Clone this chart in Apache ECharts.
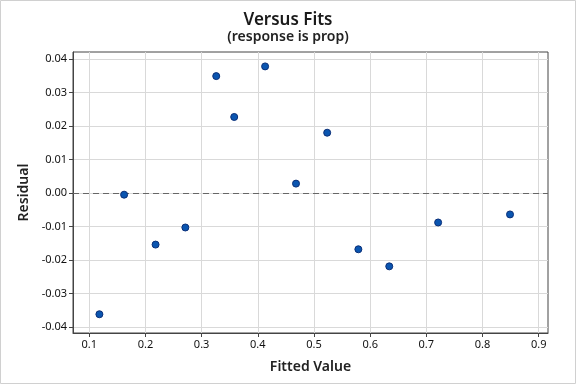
<!DOCTYPE html>
<html><head><meta charset="utf-8">
<script src="https://cdn.jsdelivr.net/npm/echarts@6/dist/echarts.min.js"></script>
<style>html,body{margin:0;padding:0;background:#fff}#c{width:576px;height:384px}</style>
</head><body><div id="c"></div>
<script>
const fittedValues = [0.118, 0.162, 0.218, 0.271, 0.326, 0.358, 0.413, 0.468, 0.5235, 0.579, 0.634, 0.721, 0.849];
const residuals = [-0.0362, -0.0005, -0.0154, -0.0103, 0.0349, 0.0227, 0.0378, 0.0028, 0.0180, -0.0168, -0.0219, -0.0088, -0.0064];
const xTicks = [0.1, 0.2, 0.3, 0.4, 0.5, 0.6, 0.7, 0.8, 0.9];
const yTicks = [-0.04, -0.03, -0.02, -0.01, 0, 0.01, 0.02, 0.03, 0.04];

const font = "'Noto Sans', 'Open Sans', sans-serif";
const chart = echarts.init(document.getElementById('c'), null, {renderer: 'canvas'});
chart.setOption({
  animation: false,
  backgroundColor: '#fff',
  graphic: [{type: 'rect', shape: {x: 0.5, y: 0.5, width: 575, height: 383}, style: {fill: 'none', stroke: '#d0d0d0', lineWidth: 1}, z: -1}],
  title: {
    text: 'Versus Fits', subtext: '(response is prop)', left: 'center', top: 7, itemGap: 1,
    textStyle: {fontFamily: font, fontSize: 17, fontWeight: 600, color: '#1a1a1a'},
    subtextStyle: {fontFamily: font, fontSize: 14, fontWeight: 600, color: '#222'}
  },
  grid: {left: 73, right: 28, top: 52, bottom: 51, show: true, borderColor: '#444', borderWidth: 1, backgroundColor: '#fff'},
  xAxis: {
    type: 'value', min: 0.071, max: 0.9166,
    name: 'Fitted Value', nameLocation: 'middle', nameGap: 27,
    nameTextStyle: {fontFamily: font, fontSize: 14, fontWeight: 600, color: '#222'},
    axisLine: {show: true, onZero: false, lineStyle: {color: '#444'}},
    axisTick: {show: true, length: 4, customValues: xTicks, lineStyle: {color: '#444'}},
    axisLabel: {customValues: xTicks, fontFamily: font, fontSize: 11, color: '#111', margin: 6, formatter: v => v.toFixed(1)},
    splitLine: {show: true, lineStyle: {color: '#d9d9d9', width: 1}}
  },
  yAxis: {
    type: 'value', min: -0.0418, max: 0.0421,
    name: 'Residual', nameLocation: 'middle', nameGap: 41, nameRotate: 90,
    nameTextStyle: {fontFamily: font, fontSize: 14, fontWeight: 600, color: '#222'},
    axisLine: {show: true, onZero: false, lineStyle: {color: '#444'}},
    axisTick: {show: true, length: 4, customValues: yTicks, lineStyle: {color: '#444'}},
    axisLabel: {customValues: yTicks, fontFamily: font, fontSize: 11, color: '#111', margin: 6, formatter: v => v.toFixed(2)},
    splitLine: {show: true, lineStyle: {color: '#d9d9d9', width: 1}}
  },
  series: [{
    type: 'scatter',
    data: fittedValues.map((x, i) => [x, residuals[i]]),
    symbol: 'circle', symbolSize: 7,
    itemStyle: {color: '#0a55b0', borderColor: '#0a2f78', borderWidth: 1, opacity: 1},
    markLine: {
      silent: true, symbol: 'none', label: {show: false},
      lineStyle: {color: '#666', type: [6, 4], width: 1},
      data: [{yAxis: 0}]
    },
    z: 5
  }]
});
</script></body></html>
